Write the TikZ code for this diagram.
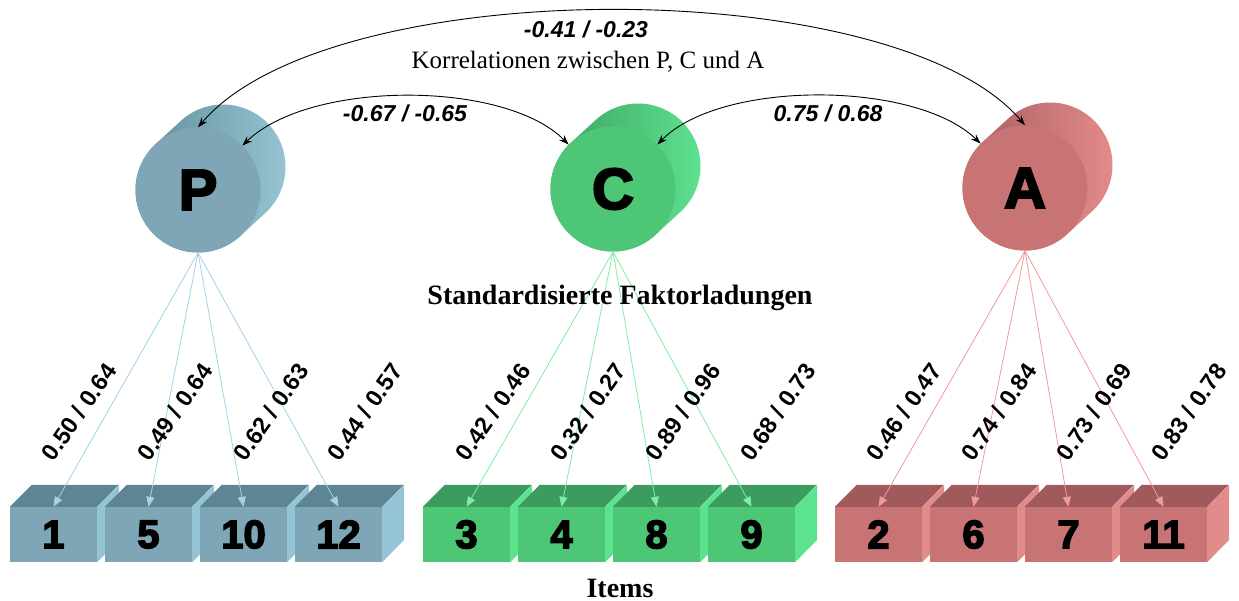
\documentclass[tikz,border=0pt]{standalone}
\usepackage{fontspec}
\setmainfont{Liberation Serif}
\newfontfamily\arialfont{Liberation Sans}
\newfontfamily\heavyfont[BoldFeatures={FakeBold=3.5}]{Liberation Sans}
\usetikzlibrary{arrows.meta}
\definecolor{pfront}{HTML}{7EA6B6}\definecolor{pdark}{HTML}{5F8A99}\definecolor{plight}{HTML}{98C6D5}
\definecolor{ptop}{HTML}{5E8593}\definecolor{pside}{HTML}{95C5D5}\definecolor{pline}{HTML}{A0D4E6}
\definecolor{cfront}{HTML}{4DC675}\definecolor{cdark}{HTML}{3A9E60}\definecolor{clight}{HTML}{60E492}
\definecolor{ctop}{HTML}{3C9B5E}\definecolor{cside}{HTML}{5CE38D}\definecolor{cline}{HTML}{7CF0A0}
\definecolor{afront}{HTML}{C87475}\definecolor{adark}{HTML}{A55A5B}\definecolor{alight}{HTML}{E68D8D}
\definecolor{atop}{HTML}{A05A5B}\definecolor{aside}{HTML}{E28B8B}\definecolor{aline}{HTML}{F29A9A}
\tikzset{
  corr/.style={draw=black, line width=0.9pt, {Stealth[length=10pt,width=7pt]}-{Stealth[length=10pt,width=7pt]}},
  ld/.style={line width=0.8pt, -{Triangle[length=10pt,width=8pt]}},
  corrlab/.style={font=\arialfont\bfseries\itshape\fontsize{23}{23}\selectfont, inner sep=0pt},
  ldlab/.style={font=\arialfont\bfseries\fontsize{23.5}{23.5}\selectfont, rotate=55, inner sep=0pt},
  boxfront/.style={rectangle, minimum width=87pt, minimum height=55pt, inner sep=0pt,
    font=\heavyfont\bfseries\fontsize{40}{40}\selectfont},
  fact/.style={circle, minimum size=125pt, inner sep=0pt,
    font=\heavyfont\bfseries\fontsize{58}{58}\selectfont},
  heading/.style={font=\bfseries\fontsize{28}{28}\selectfont, inner sep=0pt}
}
\newcommand{\mycyl}[5]{% name, x, y, colour prefix, letter
  \begin{scope}[shift={(#2,-#3)}]
    \shade[left color=#4dark, right color=#4light]
      (132.6:62.5) -- ++(25,23) arc[start angle=132.6, end angle=-47.4, radius=62.5]
      -- (-47.4:62.5) arc[start angle=-47.4, end angle=-227.4, radius=62.5] -- cycle;
  \end{scope}
  \node[fact, fill=#4front] (#1) at (#2,-#3) {#5};
}
\newcommand{\itembox}[4]{% name, left x, colour prefix, number
  \node[boxfront, fill=#3front] (#1) at (#2+43.5,-534.5) {#4};
  \fill[#3top] (#1.north west) -- ++(22,22) -- ++(87,0) -- (#1.north east) -- cycle;
  \fill[#3side] (#1.north east) -- ++(22,22) -- ++(0,-55) -- (#1.south east) -- cycle;
}
\begin{document}
\begin{tikzpicture}[x=1pt,y=1pt]
\useasboundingbox[fill=white] (0,0) rectangle (1239,-601);
% factors
\mycyl{P}{198}{190}{p}{P}
\mycyl{C}{613}{189}{c}{C}
\mycyl{A}{1025}{188}{a}{A}
% item boxes
\itembox{i1}{10}{p}{1}
\itembox{i5}{105}{p}{5}
\itembox{i10}{200}{p}{10}
\itembox{i12}{295}{p}{12}
\itembox{i3}{423}{c}{3}
\itembox{i4}{518}{c}{4}
\itembox{i8}{613}{c}{8}
\itembox{i9}{708}{c}{9}
\itembox{i2}{835}{a}{2}
\itembox{i6}{930}{a}{6}
\itembox{i7}{1025}{a}{7}
\itembox{i11}{1120}{a}{11}
% loadings
\foreach \i in {i1,i5,i10,i12} \draw[ld, pline] (P.south) -- (\i.north);
\foreach \i in {i3,i4,i8,i9} \draw[ld, cline] (C.south) -- (\i.north);
\foreach \i in {i2,i6,i7,i11} \draw[ld, aline] (A.south) -- (\i.north);
% loading labels
\node[ldlab] (l1) at (79,-412) {0.50 / 0.64};
\node[ldlab] (l5) at (175,-412) {0.49 / 0.64};
\node[ldlab] (l10) at (271,-412) {0.62 / 0.63};
\node[ldlab] (l12) at (365,-412) {0.44 / 0.57};
\node[ldlab] (l3) at (493,-412) {0.42 / 0.46};
\node[ldlab] (l4) at (588,-412) {0.32 / 0.27};
\node[ldlab] (l8) at (683,-412) {0.89 / 0.96};
\node[ldlab] (l9) at (778,-412) {0.68 / 0.73};
\node[ldlab] (l2) at (904,-412) {0.46 / 0.47};
\node[ldlab] (l6) at (999,-412) {0.74 / 0.84};
\node[ldlab] (l7) at (1094,-412) {0.73 / 0.69};
\node[ldlab] (l11) at (1189,-412) {0.83 / 0.78};
% correlations
\draw[corr] (P.north) .. controls (330,28) and (895,28) .. (A.north);
\draw[corr] (P.45) .. controls (310,-80) and (505,-80) .. (C.135);
\draw[corr] (C.45) .. controls (720,-80) and (915,-80) .. (A.135);
\node[corrlab] (rPA) at (586,-29) {-0.41 / -0.23};
\node[corrlab] (rPC) at (405,-113) {-0.67 / -0.65};
\node[corrlab] (rCA) at (828,-113) {0.75 / 0.68};
% headings
\node[font=\fontsize{25}{25}\selectfont, inner sep=0pt] (korr) at (588,-62) {Korrelationen zwischen P, C und A};
\node[heading] (std) at (620,-298) {Standardisierte Faktorladungen};
\node[heading] (items) at (620,-588) {Items};
\end{tikzpicture}
\end{document}
